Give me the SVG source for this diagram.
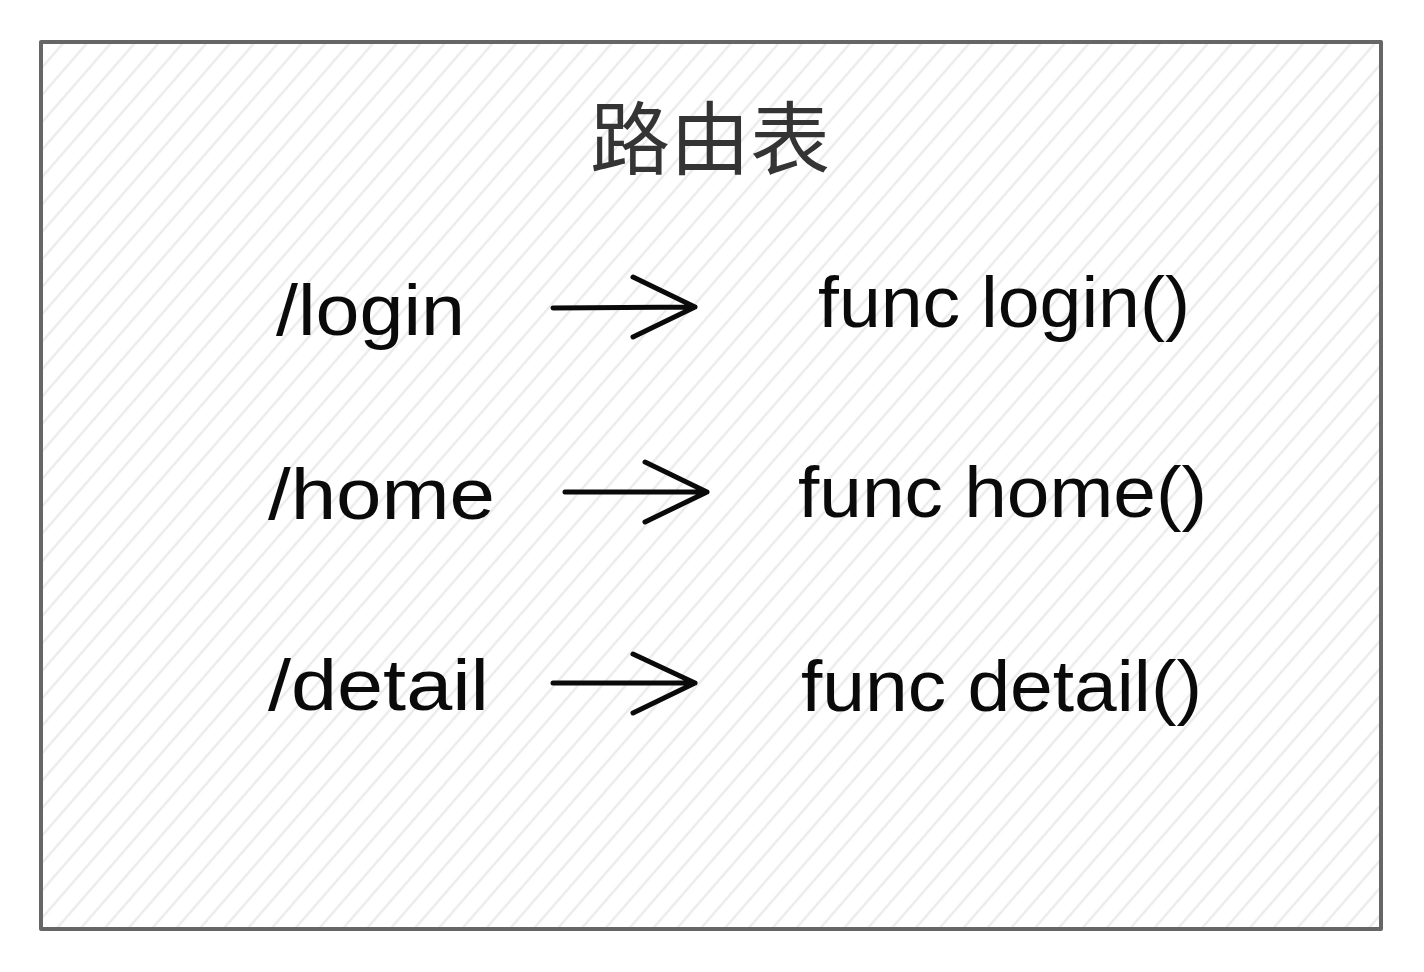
<svg xmlns="http://www.w3.org/2000/svg" width="1424" height="972" viewBox="0 0 1424 972">
  <defs>
    <pattern id="hatch" width="18" height="18" patternUnits="userSpaceOnUse" patternTransform="rotate(41)">
      <line x1="4" y1="0" x2="4" y2="18" stroke="#ebebeb" stroke-width="2.4"/>
    </pattern>
    <style>
      .box { fill: url(#hatch); stroke: #666666; stroke-width: 4; stroke-linejoin: round; }
      .title { font-family: "Noto Sans CJK SC", "Noto Sans", sans-serif; font-size: 80px; fill: #343434; }
      .lbl { font-family: "Liberation Sans", "DejaVu Sans", sans-serif; font-size: 72px; fill: #0a0a0a; }
      .arrow { fill: none; stroke: #0a0a0a; stroke-width: 5; stroke-linecap: round; stroke-linejoin: round; }
    </style>
  </defs>
  <rect width="1424" height="972" fill="#ffffff"/>

  <g id="frame">
    <rect class="box" x="41" y="42" width="1340" height="887"/>
  </g>

  <g id="title">
    <text class="title" x="710" y="168" text-anchor="middle">路由表</text>
  </g>

  <g id="route-login">
    <text class="lbl" x="276" y="335" textLength="189" lengthAdjust="spacingAndGlyphs">/login</text>
  </g>
  <g id="func-login">
    <text class="lbl" x="818" y="327" textLength="372" lengthAdjust="spacingAndGlyphs">func login()</text>
  </g>

  <g id="route-home">
    <text class="lbl" x="268" y="519" textLength="227" lengthAdjust="spacingAndGlyphs">/home</text>
  </g>
  <g id="func-home">
    <text class="lbl" x="798" y="517" textLength="409" lengthAdjust="spacingAndGlyphs">func home()</text>
  </g>

  <g id="route-detail">
    <text class="lbl" x="268" y="710" textLength="221" lengthAdjust="spacingAndGlyphs">/detail</text>
  </g>
  <g id="func-detail">
    <text class="lbl" x="801" y="711" textLength="401" lengthAdjust="spacingAndGlyphs">func detail()</text>
  </g>

  <g id="connectors">
    <path class="arrow" d="M553 308 L695 307 M633 277 L695 307 L633 337"/>
    <path class="arrow" d="M565 492 L707 492 M645 462 L707 492 L645 522"/>
    <path class="arrow" d="M553 683 L695 683 M633 654 L695 683 L633 713"/>
  </g>
</svg>
